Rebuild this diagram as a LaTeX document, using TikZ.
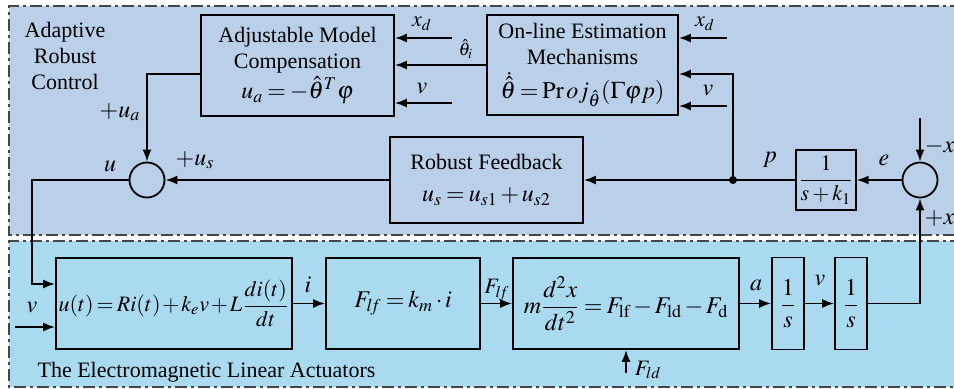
\documentclass[tikz,border=0pt]{standalone}
\usepackage{amsmath}
\usepackage{mathptmx}
\usepackage{fontspec}
\setmainfont{Liberation Serif}
\usetikzlibrary{arrows.meta}
\definecolor{arcblue}{RGB}{185,208,232}
\definecolor{elablue}{RGB}{170,218,240}
\definecolor{framegray}{RGB}{70,70,70}
\newcommand{\eqfont}{\fontsize{12}{14}\selectfont\thinmuskip=2mu\medmuskip=2mu plus 1mu\thickmuskip=3mu plus 1mu}
\newcommand{\eqsmall}{\fontsize{11}{13}\selectfont\thinmuskip=1.5mu\medmuskip=1.5mu\thickmuskip=2.5mu}
\tikzset{
  block/.style={draw,line width=0.9pt,inner sep=1pt,align=center},
  sumnode/.style={draw,circle,line width=0.9pt,minimum size=17.5pt,inner sep=0pt},
  region/.style={draw=framegray,line width=0.6pt,dash pattern=on 6pt off 2pt on 1.5pt off 2pt},
  lbl/.style={inner sep=1pt}
}

\begin{document}
\begin{tikzpicture}[x=0.5pt,y=-0.5pt,>={Latex[length=6pt,width=4.5pt]},line width=0.9pt,font=\fontsize{11}{13}\selectfont]
\useasboundingbox (0,0) rectangle (954,388);
% the two dash-dotted areas
\fill[arcblue] (9,6) rectangle (962,235);
\draw[region] (962,6) -- (9,6) -- (9,235) -- (962,235);
\fill[elablue] (9,241) rectangle (962,387);
\draw[region] (962,241) -- (9,241) -- (9,387) -- (962,387);
\node[align=center] (arc) at (65,56) {Adaptive\\Robust\\Control};
\node[anchor=west] (ela) at (30,372) {The Electromagnetic Linear Actuators};

% controller blocks
\node[block,minimum width=96.5pt,minimum height=50.5pt] (AMC) at (297.5,65.5)
  {Adjustable Model\\Compensation\\[1pt] {\eqfont$u_a=-\hat{\theta}^T\varphi$}};
\node[block,minimum width=95.5pt,minimum height=50pt] (OEM) at (582.5,65)
  {On-line Estimation\\Mechanisms\\[3pt] {\eqfont$\dot{\hat{\theta}}=\mathrm{Pr}\,oj_{\hat{\theta}}(\Gamma\varphi p)$}};
\node[block,minimum width=96.5pt,minimum height=43pt] (RF) at (486.5,180)
  {Robust Feedback\\[3pt] {\eqfont$u_s=u_{s1}+u_{s2}$}};
\node[block,minimum width=29pt,minimum height=30pt] (K) at (826,180) {$\dfrac{1}{s+k_1}$};
\node[sumnode] (S1) at (147,180) {};
\node[sumnode] (S2) at (920,180) {};

% actuator blocks
\node[block,minimum width=118pt,minimum height=45.5pt] (coil) at (174,303.5)
  {\eqsmall$u(t)=Ri(t)+k_ev+L\dfrac{di(t)}{dt}$};
\node[block,minimum width=77pt,minimum height=45.5pt] (force) at (403,303.5)
  {\eqfont$F_{l\!f}=k_m\cdot i$};
\node[block,minimum width=113pt,minimum height=45.5pt] (dyn) at (626,303.5)
  {\eqfont$m\dfrac{d^2x}{dt^2}=F_{\mathrm{lf}}-F_{\mathrm{ld}}-F_{\mathrm{d}}$};
\node[block,minimum width=16pt,minimum height=46pt] (int1) at (788,303.5) {\eqfont$\dfrac{1}{s}$};
\node[block,minimum width=16pt,minimum height=46pt] (int2) at (851,303.5) {\eqfont$\dfrac{1}{s}$};

% free inputs
\coordinate (xdA) at (452,38);
\coordinate (vA) at (452,103);
\coordinate (xdO) at (727,38);
\coordinate (vO) at (727,106);
\coordinate (xdtop) at (920,118);
\coordinate (vin) at (15,327);
\coordinate (fld) at (626,373);
\coordinate (jp) at (733,180);

\draw[->] (xdA) -- (xdA -| AMC.east);
\draw[->] (OEM.west) -- (OEM.west -| AMC.east);
\draw[->] (vA) -- (vA -| AMC.east);
\draw[->] (xdO) -- (xdO -| OEM.east);
\draw[->] (vO) -- (vO -| OEM.east);
\draw[->] (AMC.west |- 0,74) -| (S1.north);
\draw[->] (RF.west) -- (S1.east);
\draw[->] (S1.west) -- (32,180) |- (coil.west |- 0,284);
\draw[->] (vin) -- (vin -| coil.west);
\draw[->] (coil.east) -- (force.west);
\draw[->] (force.east) -- (dyn.west);
\draw[->] (dyn.east) -- (int1.west);
\draw[->] (int1.east) -- (int2.west);
\draw[->] (int2.east) -| (S2.south);
\draw[->] (fld) -- (dyn.south);
\draw[->] (xdtop) -- (S2.north);
\draw[->] (S2.west) -- (K.east);
\draw[->] (K.west) -- (RF.east);
\draw[->] (jp) |- (OEM.east |- 0,74);
\fill (jp) circle (2pt);

% signal names
\node[lbl] (lxdA) at (422,24) {$x_d$};
\node[lbl,font=\fontsize{9}{10}\selectfont] (lth) at (466,49) {$\hat{\theta}_i$};
\node[lbl] (lvA) at (422,88) {\eqfont$v$};
\node[lbl] (lxdO) at (705,24) {$x_d$};
\node[lbl] (lvO) at (708,90) {\eqfont$v$};
\node[lbl] (lua) at (120,112) {\eqfont$+u_a$};
\node[lbl] (lus) at (195,160) {\eqfont$+u_s$};
\node[lbl] (lu) at (110,166) {\eqfont$u$};
\node[lbl] (lp) at (770,160) {\eqfont$p$};
\node[lbl] (le) at (884,160) {\eqfont$e$};
\node[lbl,anchor=west] (lxd) at (922,148) {\eqfont$-x_d$};
\node[lbl,anchor=west] (lx) at (922,218) {\eqfont$+x$};
\node[lbl] (lv) at (32,307) {\eqfont$v$};
\node[lbl] (li) at (308,285) {\eqfont$i$};
\node[lbl] (lflf) at (497,290) {$F_{l\!f}$};
\node[lbl] (la) at (756,285) {\eqfont$a$};
\node[lbl] (lv2) at (820,280) {\eqfont$v$};
\node[lbl,anchor=west] (lfld) at (632,370) {$F_{ld}$};
\end{tikzpicture}
\end{document}
